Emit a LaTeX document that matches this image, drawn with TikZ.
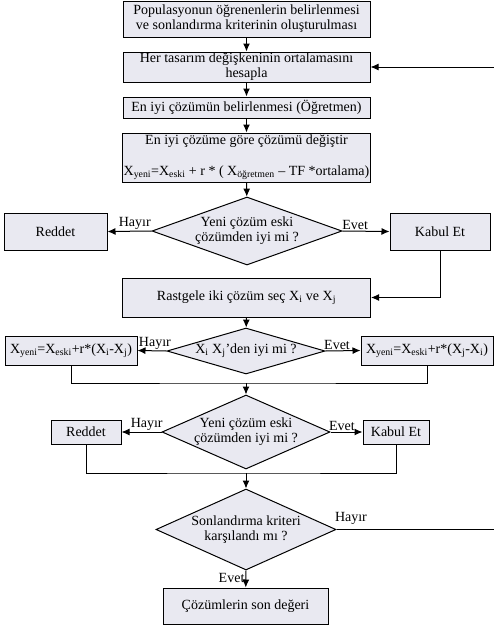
\documentclass[tikz,border=0pt]{standalone}
\usepackage{fontspec}
\setmainfont{Liberation Serif}
\usetikzlibrary{shapes.geometric,arrows.meta}
\definecolor{kutudolgu}{RGB}{233,233,241}

\begin{document}
\begin{tikzpicture}[x=1pt,y=-1pt,
                            yazi/.style={font=\fontsize{14}{15}\selectfont},
                            kutu/.style={yazi,draw,fill=kutudolgu,line width=1pt,inner sep=1pt,align=center},
                            karar/.style={yazi,draw,fill=kutudolgu,diamond,line width=1pt,inner sep=-2pt,align=center},
                            ok/.style={line width=1pt,-{Latex[length=8pt,width=7pt]}},
                            cizgi/.style={line width=1pt},
                            etiket/.style={yazi,inner sep=1pt}]
                            \useasboundingbox (0,0) rectangle (494,627);

                            % Boxes
                            \node[kutu,minimum width=247pt,minimum height=36pt] (bas) at (246.5,19)
                                {Populasyonun öğrenenlerin belirlenmesi\\ve sonlandırma kriterinin oluşturulması};
                            \node[kutu,minimum width=247pt,minimum height=30pt] (ortalama) at (246.5,67)
                                {Her tasarım değişkeninin ortalamasını\\hesapla};
                            \node[kutu,minimum width=247pt,minimum height=21pt] (ogretmen) at (246.5,107.5)
                                {En iyi çözümün belirlenmesi (Öğretmen)};
                            \node[kutu,minimum width=247pt,minimum height=49pt] (degistir) at (246.5,157.5)
                                {En iyi çözüme göre çözümü değiştir\\[16pt]
                                X\textsubscript{yeni}=X\textsubscript{eski} + r * ( X\textsubscript{öğretmen} – TF *ortalama)};
                            \node[karar,minimum width=190pt,minimum height=68pt,aspect=2.8] (karar1) at (247,231)
                                {Yeni çözüm eski\\çözümden iyi mi ?};
                            \node[kutu,minimum width=103pt,minimum height=37pt] (reddet1) at (55.5,231.5) {Reddet};
                            \node[kutu,minimum width=100pt,minimum height=37pt] (kabul1) at (440,231.5) {Kabul Et};
                            \node[kutu,minimum width=248pt,minimum height=39pt] (rastgele) at (246.5,297.5)
                                {Rastgele iki çözüm seç X\textsubscript{i} ve X\textsubscript{j}};
                            \node[karar,minimum width=158pt,minimum height=46pt,aspect=3.4] (karar2) at (246,351)
                                {X\textsubscript{i} X\textsubscript{j}’den iyi mi ?};
                            \node[kutu,minimum width=132pt,minimum height=29pt] (soldeg) at (71,350.5)
                                {X\textsubscript{yeni}=X\textsubscript{eski}+r*(X\textsubscript{i}-X\textsubscript{j})};
                            \node[kutu,minimum width=132pt,minimum height=29pt] (sagdeg) at (427,350.5)
                                {X\textsubscript{yeni}=X\textsubscript{eski}+r*(X\textsubscript{j}-X\textsubscript{i})};
                            \node[karar,minimum width=168pt,minimum height=74pt,aspect=2.27] (karar3) at (246,432)
                                {Yeni çözüm eski\\çözümden iyi mi ?};
                            \node[kutu,minimum width=70pt,minimum height=24pt] (reddet2) at (86,432) {Reddet};
                            \node[kutu,minimum width=66pt,minimum height=24pt] (kabul2) at (396,432) {Kabul Et};
                            \node[karar,minimum width=180pt,minimum height=81pt,aspect=2.22] (karar4) at (246,529.5)
                                {Sonlandırma kriteri\\karşılandı mı ?};
                            \node[kutu,minimum width=165pt,minimum height=36pt] (son) at (245.5,606)
                                {Çözümlerin son değeri};

                            % Junctions
                            \coordinate (birles1) at (246,383);
                            \coordinate (birles2) at (246,473);
                            \coordinate (donus) at (497,529.5);

                            % Connectors
                            \draw[ok] (bas) -- (ortalama);
                            \draw[ok] (ortalama) -- (ogretmen);
                            \draw[ok] (ogretmen) -- (degistir);
                            \draw[ok] (degistir) -- (karar1);
                            \draw[ok] (karar1.west) -- node[etiket,above,pos=0.38]{Hayır} (reddet1.east);
                            \draw[ok] (karar1.east) -- node[etiket,above,pos=0.27]{Evet} (kabul1.west);
                            \draw[ok] (kabul1.south) |- (rastgele.east);
                            \draw[ok] (rastgele) -- (karar2);
                            \draw[ok] (karar2.west) -- node[etiket,above,pos=0.4]{Hayır} (soldeg.east);
                            \draw[ok] (karar2.east) -- node[etiket,above,pos=0.33]{Evet} (sagdeg.west);
                            \draw[cizgi] (soldeg.south) |- (birles1) -| (sagdeg.south);
                            \draw[ok] (birles1) -- (karar3);
                            \draw[ok] (karar3.west) -- node[etiket,above,pos=0.37]{Hayır} (reddet2.east);
                            \draw[ok] (karar3.east) -- node[etiket,above,pos=0.36]{Evet} (kabul2.west);
                            \draw[cizgi] (reddet2.south) |- (birles2) -| (kabul2.south);
                            \draw[ok] (birles2) -- (karar4);
                            \draw[ok] (karar4.south) -- node[etiket,left,pos=0.45]{Evet} (son);
                            \draw[ok] (karar4.east) -- node[etiket,anchor=south west,pos=0,xshift=-3pt,yshift=3pt]{Hayır}
                                (donus) |- (ortalama.east);
                      \end{tikzpicture}
\end{document}
